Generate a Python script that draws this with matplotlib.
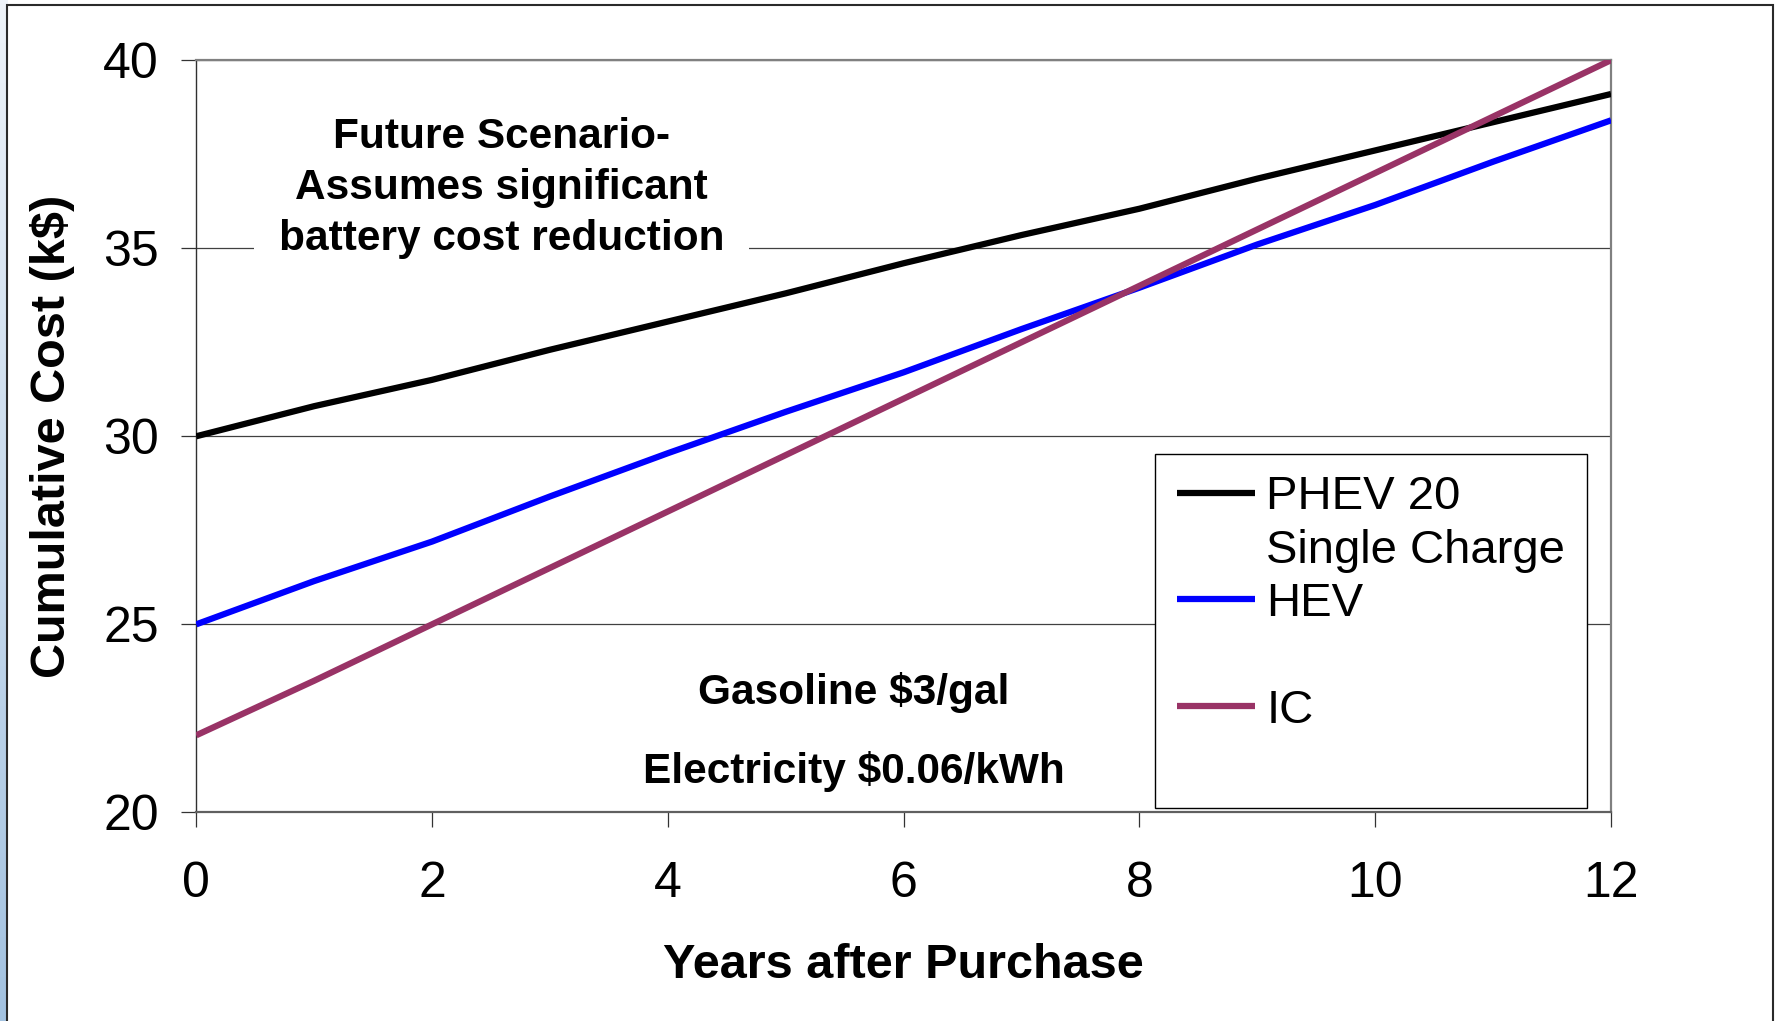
import matplotlib
matplotlib.use("Agg")
import matplotlib.pyplot as plt
from matplotlib.lines import Line2D
from matplotlib.patches import Rectangle
import numpy as np

plt.rcParams['font.family'] = ['Liberation Sans', 'DejaVu Sans']

# --- data ---
years = [0, 1, 2, 3, 4, 5, 6, 7, 8, 9, 10, 11, 12]
phev = [30.0, 30.8, 31.5, 32.3, 33.05, 33.8, 34.6, 35.35, 36.05, 36.85, 37.6, 38.35, 39.1]
hev = [25.0, 26.15, 27.2, 28.4, 29.55, 30.65, 31.7, 32.85, 33.95, 35.1, 36.15, 37.3, 38.4]
ic = [22.05, 23.5, 25.0, 26.5, 28.0, 29.5, 31.0, 32.5, 34.0, 35.5, 37.0, 38.5, 40.0]

series_names = ["PHEV 20", "HEV", "IC"]
series_colors = ["#000000", "#0000ff", "#993366"]

x_ticks = [0, 2, 4, 6, 8, 10, 12]
y_ticks = [20, 25, 30, 35, 40]

fig = plt.figure(figsize=(17.79, 10.21), dpi=100)
fig.patch.set_facecolor("white")

# slide-like frame: blue strip on the left and a dark border
grad = np.linspace(0, 1, 256).reshape(-1, 1)
strip = fig.add_axes([0, 0, 7 / 1779, 1])
strip.imshow(grad, aspect="auto", cmap=matplotlib.colors.LinearSegmentedColormap.from_list(
    "s", ["#eef3f9", "#a3c2e0"]))
strip.set_axis_off()
fig.add_artist(Rectangle((7 / 1779, -0.01), (1773 - 7) / 1779, 1 - 5 / 1021 + 0.01,
                         transform=fig.transFigure, fill=False, edgecolor="#2a2a2a", lw=1.5))

ax = fig.add_axes([0.1103, 0.2043, 0.7953, 0.7368])

lines = []
for vals, name, col in zip([phev, hev, ic], series_names, series_colors):
    ln, = ax.plot(years, vals, color=col, lw=4.5, solid_capstyle="butt", zorder=3, label=name)
    lines.append(ln)

ax.set_xlim(0, 12)
ax.set_ylim(20, 40)
ax.set_xticks(x_ticks)
ax.set_yticks(y_ticks)
ax.tick_params(axis="both", direction="out", length=11, width=0.9, color="#333333",
               labelsize=36)
ax.tick_params(axis="x", pad=24)
ax.tick_params(axis="y", pad=16)

ax.grid(axis="y", color="#404040", lw=0.9)
ax.set_axisbelow(True)
ax.spines["top"].set_color("#808080")
ax.spines["top"].set_linewidth(1.6)
ax.spines["right"].set_color("#808080")
ax.spines["right"].set_linewidth(1.6)
ax.spines["bottom"].set_color("#606060")
ax.spines["bottom"].set_linewidth(1.6)
ax.spines["left"].set_color("#303030")
ax.spines["left"].set_linewidth(1.0)

ax.set_xlabel("Years after Purchase", fontsize=35, fontweight="bold", labelpad=26)
ax.set_ylabel("Cumulative Cost (k$)", fontsize=35, fontweight="bold", labelpad=20)

ax.text(2.59, 36.6, "Future Scenario-\nAssumes significant\nbattery cost reduction",
        ha="center", va="center", fontsize=30.5, fontweight="bold", linespacing=1.35,
        bbox=dict(facecolor="white", edgecolor="none", pad=18), zorder=2)
ax.text(5.58, 23.2, "Gasoline $3/gal", ha="center", va="center",
        fontsize=30.5, fontweight="bold")
ax.text(5.58, 21.1, "Electricity $0.06/kWh", ha="center", va="center",
        fontsize=30.5, fontweight="bold")

blank = Line2D([], [], color="none")
handles = [lines[0], blank, lines[1], blank, lines[2], blank]
labels = ["PHEV 20", "Single Charge", "HEV", " ", "IC", " "]
leg = ax.legend(handles, labels, loc="upper left", bbox_to_anchor=(0.678, 0.4766),
                fontsize=34, frameon=True, fancybox=False, shadow=False,
                handlelength=1.65, handletextpad=0.25, labelspacing=0.2,
                borderpad=0.45, borderaxespad=0.0)
leg.get_frame().set_edgecolor("#000000")
leg.get_frame().set_linewidth(1.0)
leg.get_frame().set_alpha(1.0)
for h in leg.legend_handles:
    h.set_linewidth(4.5)

fig.savefig("out.png", dpi=100, facecolor="white")
